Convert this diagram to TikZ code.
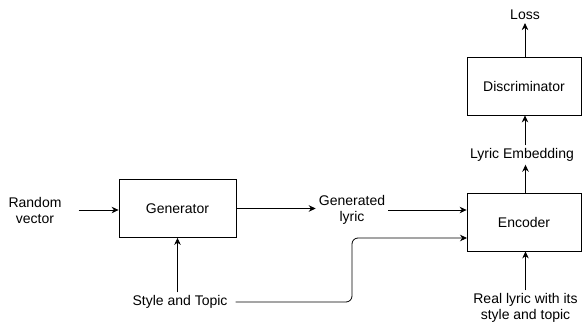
\documentclass[tikz,border=0pt]{standalone}
\usepackage{fontspec}
\setmainfont{Liberation Sans}
\usetikzlibrary{arrows.meta}

\begin{document}
\begin{tikzpicture}[
    x=1pt, y=-1pt,
    font=\fontsize{14}{16}\selectfont,
    >={Stealth[length=7pt, width=6.5pt]},
    block/.style={
        draw=black,
        line width=0.8pt,
        minimum width=#1,
        minimum height=58pt,
        inner sep=0pt
    },
    txt/.style={align=center, inner sep=3pt},
    arrow/.style={->, line width=0.8pt, color=black}
]
\useasboundingbox (0,0) rectangle (582,327);

\node[txt] (rand) at (35,210) {Random\\vector};
\node[block=117pt] (gen) at (177.5,208.5) {Generator};
\node[txt] (glyric) at (352,210) {Generated\\lyric};
\node[txt] (style) at (180,302) {Style and Topic};

\node[block=114pt] (enc) at (524,222) {Encoder};
\node[txt] (real) at (525.5,308) {Real lyric with its\\style and topic};
\node[txt] (emb) at (522,155) {Lyric Embedding};
\node[block=114pt] (disc) at (524,86) {Discriminator};
\node[txt] (loss) at (525,15) {Loss};

% second input of the encoder
\coordinate (turn) at (352,270);
\coordinate (encin) at (467,238);

\draw[arrow, shorten <=14pt] (rand.east) -- (rand.east -| gen.west);
\draw[arrow] (gen.east) -- (gen.east -| glyric.west);
\draw[arrow] (glyric.east) -- (glyric.east -| enc.west);
\draw[arrow] (gen.south |- style.north) -- (gen.south);
\draw[arrow, rounded corners=6pt, shorten <=5pt] (style.east) -- (style.east -| turn) |- (encin);
\draw[arrow] (real.north) -- (real.north |- enc.south);
\draw[arrow] (real.north |- enc.north) -- (real.north |- emb.south);
\draw[arrow] (loss.south |- emb.north) -- (loss.south |- disc.south);
\draw[arrow] (loss.south |- disc.north) -- (loss.south);

\end{tikzpicture}
\end{document}
